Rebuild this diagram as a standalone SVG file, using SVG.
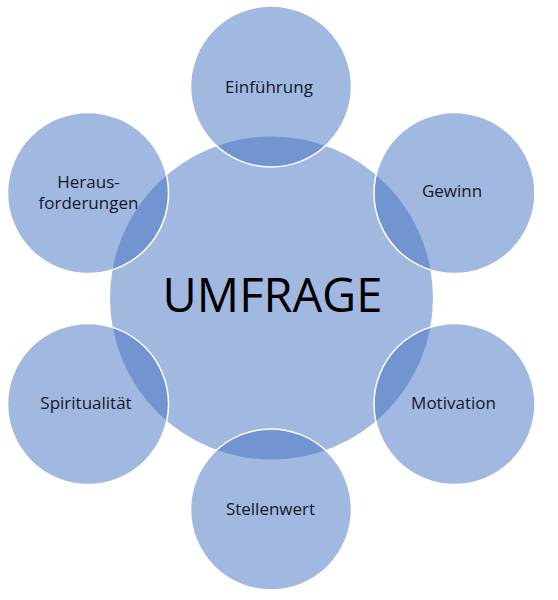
<svg xmlns="http://www.w3.org/2000/svg" width="558" height="600" viewBox="0 0 558 600">
<style>
.c{fill:#4472c4;fill-opacity:0.5}
.o{stroke:#ffffff;stroke-width:1.5}
.t{font-family:"Open Sans","Liberation Sans",sans-serif;font-size:17px;fill:#111827;text-anchor:middle}
.m{font-family:"Open Sans","Liberation Sans",sans-serif;font-size:47px;fill:#000000;text-anchor:middle}
</style>
<rect width="558" height="600" fill="#ffffff"/>
<g id="connectors"/>
<g id="umfrage">
<circle class="c" cx="271.5" cy="298" r="161.5"/>
<text class="m" x="272.5" y="312">UMFRAGE</text>
</g>
<g id="einfuehrung">
<circle class="c o" cx="271" cy="86.5" r="80.5"/>
<text class="t" x="269" y="93">Einführung</text>
</g>
<g id="gewinn">
<circle class="c o" cx="454.5" cy="193" r="80.5"/>
<text class="t" x="452" y="197">Gewinn</text>
</g>
<g id="motivation">
<circle class="c o" cx="454.5" cy="404" r="80.5"/>
<text class="t" x="453.5" y="409">Motivation</text>
</g>
<g id="stellenwert">
<circle class="c o" cx="271" cy="509.5" r="80.5"/>
<text class="t" x="270.5" y="515">Stellenwert</text>
</g>
<g id="spiritualitaet">
<circle class="c o" cx="88" cy="404" r="80.5"/>
<text class="t" x="86" y="409">Spiritualität</text>
</g>
<g id="herausforderungen">
<circle class="c o" cx="88" cy="193" r="80.5"/>
<text class="t" x="88.5" y="188">Heraus-</text>
<text class="t" x="88.5" y="209">forderungen</text>
</g>
</svg>
